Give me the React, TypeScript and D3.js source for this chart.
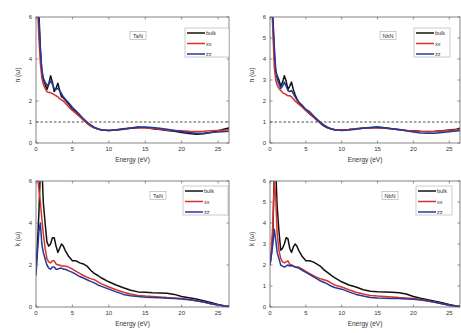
import React from "react";
import * as d3 from "d3";

// energy grid (eV), shared by every curve
const energy = [0, 0.2, 0.4, 0.6, 0.8, 1, 1.25, 1.5, 1.75, 2, 2.25, 2.5, 2.75, 3, 3.25, 3.5, 3.75, 4, 4.5, 5, 5.5, 6, 6.5, 7, 7.5, 8, 8.5, 9, 10, 11, 12, 13, 14, 15, 16, 17, 18, 19, 20, 21, 22, 23, 24, 25, 26, 26.5];

const seriesNames = ["bulk", "xx", "zz"];
const seriesColors = ["#111111", "#d8322c", "#27379a"];
const panelTags = ["TaN", "NbN", "TaN", "NbN"];

// refractive index n(w)
const nLeftBulk = [7, 7, 6.2, 4.5, 3.4, 3.0, 2.8, 2.55, 2.8, 3.2, 2.9, 2.45, 2.6, 2.85, 2.5, 2.2, 2.15, 2.05, 1.85, 1.6, 1.5, 1.3, 1.1, 0.95, 0.82, 0.72, 0.66, 0.62, 0.6, 0.63, 0.68, 0.72, 0.76, 0.74, 0.68, 0.64, 0.6, 0.56, 0.5, 0.45, 0.42, 0.44, 0.5, 0.58, 0.68, 0.72];
const nLeftXX = [7, 6.5, 5.0, 3.8, 3.1, 2.8, 2.6, 2.45, 2.4, 2.4, 2.35, 2.3, 2.25, 2.2, 2.1, 2.05, 2.0, 1.9, 1.72, 1.55, 1.4, 1.25, 1.1, 0.95, 0.82, 0.72, 0.66, 0.62, 0.6, 0.62, 0.66, 0.7, 0.72, 0.72, 0.7, 0.66, 0.62, 0.6, 0.58, 0.56, 0.55, 0.56, 0.58, 0.6, 0.62, 0.64];
const nLeftZZ = [7, 7, 5.8, 4.4, 3.5, 3.1, 2.9, 2.75, 2.8, 2.95, 2.8, 2.6, 2.55, 2.6, 2.5, 2.35, 2.2, 2.1, 1.9, 1.7, 1.52, 1.35, 1.17, 1.0, 0.86, 0.75, 0.68, 0.63, 0.6, 0.62, 0.66, 0.7, 0.74, 0.76, 0.74, 0.7, 0.65, 0.6, 0.55, 0.5, 0.47, 0.46, 0.5, 0.52, 0.55, 0.56];
const nRightBulk = [7, 7, 5.8, 4.2, 3.4, 3.2, 3.0, 2.7, 2.9, 3.2, 2.95, 2.55, 2.7, 2.9, 2.55, 2.3, 2.1, 1.95, 1.75, 1.55, 1.4, 1.25, 1.1, 0.95, 0.82, 0.72, 0.67, 0.63, 0.62, 0.64, 0.68, 0.72, 0.74, 0.76, 0.73, 0.68, 0.64, 0.6, 0.58, 0.56, 0.55, 0.56, 0.58, 0.62, 0.66, 0.7];
const nRightXX = [7, 6.8, 5.4, 3.6, 3.0, 2.75, 2.6, 2.5, 2.4, 2.35, 2.3, 2.25, 2.25, 2.2, 2.1, 2.0, 1.92, 1.85, 1.7, 1.55, 1.42, 1.28, 1.12, 0.98, 0.85, 0.75, 0.68, 0.64, 0.62, 0.64, 0.68, 0.7, 0.72, 0.72, 0.7, 0.67, 0.63, 0.6, 0.57, 0.55, 0.54, 0.55, 0.57, 0.6, 0.63, 0.65];
const nRightZZ = [7, 7, 6.0, 4.6, 3.5, 3.05, 2.8, 2.6, 2.7, 2.9, 2.7, 2.5, 2.45, 2.5, 2.35, 2.2, 2.05, 1.95, 1.8, 1.6, 1.5, 1.32, 1.15, 1.0, 0.86, 0.75, 0.68, 0.63, 0.6, 0.62, 0.66, 0.7, 0.73, 0.75, 0.72, 0.68, 0.63, 0.58, 0.52, 0.48, 0.46, 0.46, 0.5, 0.54, 0.57, 0.58];

// extinction coefficient k(w)
const kLeftBulk = [1.8, 3.0, 4.5, 6.5, 6.8, 5.0, 4.0, 3.1, 2.9, 3.0, 3.3, 3.3, 2.9, 2.6, 2.8, 3.0, 2.9, 2.7, 2.4, 2.2, 2.2, 2.1, 2.05, 1.95, 1.75, 1.6, 1.5, 1.38, 1.2, 1.05, 0.92, 0.8, 0.72, 0.7, 0.68, 0.67, 0.66, 0.6, 0.5, 0.44, 0.38, 0.3, 0.22, 0.12, 0.05, 0.03];
const kLeftXX = [6.5, 6.2, 5.6, 5.0, 4.2, 3.5, 2.8, 2.3, 2.15, 2.1, 2.2, 2.2, 2.05, 2.0, 2.0, 1.95, 1.95, 1.95, 1.9, 1.8, 1.7, 1.6, 1.5, 1.42, 1.35, 1.3, 1.2, 1.1, 0.95, 0.82, 0.7, 0.62, 0.55, 0.52, 0.5, 0.48, 0.45, 0.43, 0.4, 0.36, 0.3, 0.24, 0.15, 0.09, 0.04, 0.03];
const kLeftZZ = [1.5, 2.6, 3.6, 4.0, 3.0, 2.6, 2.3, 2.0, 1.85, 1.8, 1.9, 1.9, 1.8, 1.8, 1.85, 1.85, 1.8, 1.8, 1.72, 1.65, 1.55, 1.45, 1.38, 1.3, 1.22, 1.15, 1.05, 0.98, 0.85, 0.72, 0.6, 0.54, 0.5, 0.47, 0.45, 0.44, 0.42, 0.4, 0.38, 0.34, 0.3, 0.24, 0.15, 0.09, 0.04, 0.03];
const kRightBulk = [2.0, 2.5, 3.5, 6.5, 6.5, 4.8, 3.6, 2.7, 2.8, 3.0, 3.3, 3.25, 2.8, 2.6, 2.85, 3.0, 2.9, 2.7, 2.4, 2.2, 2.2, 2.15, 2.05, 1.95, 1.78, 1.65, 1.52, 1.4, 1.2, 1.05, 0.95, 0.82, 0.75, 0.73, 0.72, 0.7, 0.68, 0.62, 0.5, 0.42, 0.35, 0.28, 0.2, 0.12, 0.05, 0.03];
const kRightXX = [2.0, 2.8, 4.0, 6.0, 5.2, 3.5, 2.7, 2.3, 2.15, 2.1, 2.15, 2.2, 2.05, 1.95, 1.95, 1.92, 1.9, 1.9, 1.8, 1.7, 1.6, 1.5, 1.42, 1.35, 1.3, 1.25, 1.15, 1.05, 0.95, 0.82, 0.7, 0.62, 0.55, 0.52, 0.5, 0.48, 0.45, 0.43, 0.4, 0.36, 0.3, 0.23, 0.15, 0.08, 0.04, 0.03];
const kRightZZ = [2.0, 2.5, 3.0, 3.7, 3.2, 2.6, 2.3, 2.0, 1.95, 1.9, 1.95, 2.0, 1.95, 2.0, 1.95, 1.9, 1.88, 1.85, 1.75, 1.65, 1.55, 1.45, 1.35, 1.25, 1.18, 1.1, 1.0, 0.93, 0.85, 0.72, 0.6, 0.52, 0.45, 0.43, 0.42, 0.41, 0.4, 0.38, 0.37, 0.33, 0.28, 0.22, 0.15, 0.08, 0.04, 0.03];

const xTicks = [0, 5, 10, 15, 20, 25];
const yTicksLeftTop = [0, 1, 2, 4, 6];
const yTicksLeftBottom = [0, 2, 4, 6];
const yTicksRight = [0, 1, 2, 3, 4, 5, 6];

const W = 461;
const H = 333;

const panels = [
  { id: "p0", x0: 36, x1: 229, y0: 17, y1: 143, ylab: "n (ω)", ticks: yTicksLeftTop, series: [nLeftBulk, nLeftXX, nLeftZZ], dashed: true, tag: panelTags[0], tagX: 138, tagY: 36, legX: 185, legY: 28, legW: 44 },
  { id: "p1", x0: 270, x1: 460, y0: 17, y1: 143, ylab: "n (ω)", ticks: yTicksRight, series: [nRightBulk, nRightXX, nRightZZ], dashed: true, tag: panelTags[1], tagX: 388, tagY: 36, legX: 414, legY: 28, legW: 36 },
  { id: "p2", x0: 36, x1: 229, y0: 181, y1: 307, ylab: "k (ω)", ticks: yTicksLeftBottom, series: [kLeftBulk, kLeftXX, kLeftZZ], dashed: false, tag: panelTags[2], tagX: 158, tagY: 196, legX: 183, legY: 186, legW: 45 },
  { id: "p3", x0: 270, x1: 460, y0: 181, y1: 307, ylab: "k (ω)", ticks: yTicksRight, series: [kRightBulk, kRightXX, kRightZZ], dashed: false, tag: panelTags[3], tagX: 390, tagY: 196, legX: 416, legY: 186, legW: 36 },
];

function Panel({ p }: { p: any }) {
  const x = d3.scaleLinear().domain([0, 26.5]).range([p.x0, p.x1]);
  const y = d3.scaleLinear().domain([0, 6]).range([p.y1, p.y0]);
  const line = d3
    .line<number>()
    .x((_, i) => x(energy[i]))
    .y((d) => y(d));
  const axisCol = "#666";
  return (
    <g>
      <defs>
        <clipPath id={"clip" + p.id}>
          <rect x={p.x0} y={p.y0} width={p.x1 - p.x0} height={p.y1 - p.y0} />
        </clipPath>
      </defs>
      <g clipPath={`url(#clip${p.id})`}>
        {p.dashed && (
          <line x1={p.x0} x2={p.x1} y1={y(1)} y2={y(1)} stroke="#222" strokeWidth={0.8} strokeDasharray="2.5,2" />
        )}
        {p.series.map((s: number[], i: number) => (
          <path key={i} d={line(s) || ""} fill="none" stroke={seriesColors[i]} strokeWidth={1.5} strokeLinejoin="round" />
        ))}
      </g>
      <rect x={p.x0} y={p.y0} width={p.x1 - p.x0} height={p.y1 - p.y0} fill="none" stroke={axisCol} strokeWidth={0.8} />
      {xTicks.map((t) => (
        <g key={"x" + t}>
          <line x1={x(t)} x2={x(t)} y1={p.y1} y2={p.y1 - 2.5} stroke={axisCol} strokeWidth={0.7} />
          <line x1={x(t)} x2={x(t)} y1={p.y0} y2={p.y0 + 2.5} stroke={axisCol} strokeWidth={0.7} />
          <text x={x(t)} y={p.y1 + 8} fontSize={6} textAnchor="middle" fill="#333">{t}</text>
        </g>
      ))}
      {p.ticks.map((t: number) => (
        <g key={"y" + t}>
          <line x1={p.x0} x2={p.x0 + 2.5} y1={y(t)} y2={y(t)} stroke={axisCol} strokeWidth={0.7} />
          <line x1={p.x1} x2={p.x1 - 2.5} y1={y(t)} y2={y(t)} stroke={axisCol} strokeWidth={0.7} />
          <text x={p.x0 - 4} y={y(t) + 2} fontSize={6} textAnchor="end" fill="#333">{t}</text>
        </g>
      ))}
      <text x={(p.x0 + p.x1) / 2} y={p.y1 + 19} fontSize={6.5} textAnchor="middle" fill="#333">Energy (eV)</text>
      <text transform={`translate(${p.x0 - 16},${(p.y0 + p.y1) / 2 - 5}) rotate(-90)`} fontSize={6.5} textAnchor="middle" fill="#333">{p.ylab}</text>
      <rect x={p.tagX - 8} y={p.tagY - 4.5} width={16} height={8} fill="#fff" stroke="#999" strokeWidth={0.5} />
      <text x={p.tagX} y={p.tagY + 2} fontSize={5.5} textAnchor="middle" fill="#333">{p.tag}</text>
      <rect x={p.legX} y={p.legY} width={p.legW} height={29} fill="#fff" stroke="#999" strokeWidth={0.5} />
      {seriesNames.map((n, i) => (
        <g key={n}>
          <line x1={p.legX + 2} x2={p.legX + 20} y1={p.legY + 5 + i * 10.5} y2={p.legY + 5 + i * 10.5} stroke={seriesColors[i]} strokeWidth={1.5} />
          <text x={p.legX + 21} y={p.legY + 7 + i * 10.5} fontSize={5.5} fill="#333">{n}</text>
        </g>
      ))}
    </g>
  );
}

export default function App() {
  return (
    <svg width={W} height={H} style={{ position: "absolute", left: 0, top: 0, background: "#fff", fontFamily: "Arial, 'Liberation Sans', sans-serif" }}>
      {panels.map((p) => (
        <Panel key={p.id} p={p} />
      ))}
    </svg>
  );
}
